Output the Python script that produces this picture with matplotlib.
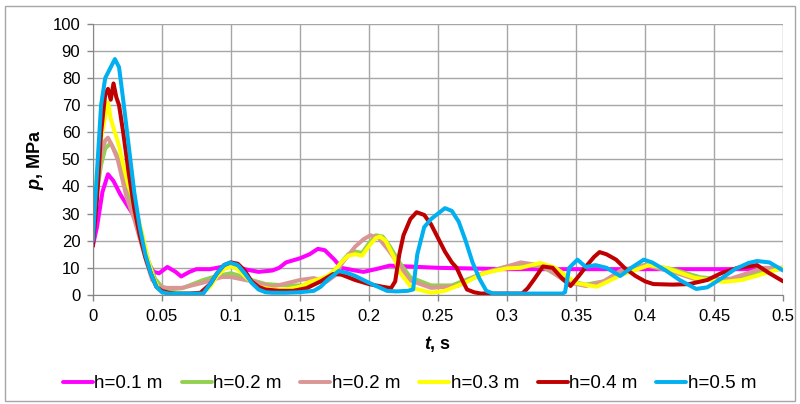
import matplotlib
matplotlib.use("Agg")
import matplotlib.pyplot as plt
from matplotlib.patches import Rectangle

plt.rcParams['font.family'] = ['Liberation Sans', 'DejaVu Sans']
plt.rcParams['mathtext.fontset'] = 'custom'
plt.rcParams['mathtext.rm'] = 'Liberation Sans:bold'
plt.rcParams['mathtext.it'] = 'Liberation Sans:italic:bold'
plt.rcParams['mathtext.bf'] = 'Liberation Sans:bold'

# ---- data ----
t_m = [0, 0.003, 0.007, 0.011, 0.015, 0.02, 0.025, 0.03, 0.035, 0.04, 0.044, 0.048, 0.054, 0.06,
       0.064, 0.07, 0.075, 0.085, 0.095, 0.1, 0.11, 0.12, 0.13, 0.135, 0.14, 0.15, 0.157, 0.163,
       0.168, 0.175, 0.18, 0.19, 0.196, 0.205, 0.215, 0.25, 0.3, 0.35, 0.4, 0.45, 0.5]
p_m = [18, 25, 38, 44.5, 42, 37, 33, 29, 23, 12, 8.5, 8, 10.3, 8.5,
       6.8, 8.5, 9.5, 9.5, 10.5, 11, 9.5, 8.5, 9, 10, 12, 13.5, 15, 17,
       16.5, 13, 10, 9, 8.5, 9.5, 10.8, 10, 9.5, 9.5, 9.5, 9.5, 9.5]

t_g = [0, 0.003, 0.006, 0.009, 0.013, 0.017, 0.022, 0.026, 0.03, 0.035, 0.04, 0.045, 0.05, 0.055,
       0.065, 0.08, 0.09, 0.1, 0.11, 0.115, 0.125, 0.14, 0.15, 0.16, 0.17, 0.175, 0.18, 0.185, 0.19,
       0.195, 0.2, 0.205, 0.21, 0.215, 0.222, 0.23, 0.245, 0.26, 0.28, 0.3, 0.31, 0.325, 0.343,
       0.357, 0.37, 0.385, 0.4, 0.42, 0.44, 0.46, 0.48, 0.5]
p_g = [20, 38, 48, 54, 56, 52, 45, 38, 31, 22, 13, 6, 3, 2,
       2.5, 5.5, 7, 8, 6.5, 5.5, 4, 3.5, 3.5, 4, 6, 9, 12, 15, 16,
       15.5, 19, 22, 21.5, 18, 12, 6.5, 3.5, 3.5, 7.5, 10.5, 11.5, 10.5, 5.5,
       3.8, 5, 9, 11, 9.5, 6.5, 5.5, 8, 10]

t_s = [0, 0.003, 0.006, 0.009, 0.011, 0.014, 0.018, 0.0245, 0.03, 0.0345, 0.039, 0.043, 0.048,
       0.054, 0.0645, 0.079, 0.0935, 0.1, 0.117, 0.13, 0.15, 0.16, 0.169, 0.175, 0.181, 0.19, 0.196,
       0.201, 0.207, 0.214, 0.222, 0.229, 0.245, 0.264, 0.283, 0.3, 0.31, 0.326, 0.343, 0.357, 0.37,
       0.383, 0.4, 0.42, 0.438, 0.462, 0.486, 0.5]
p_s = [19, 40, 52, 57, 58, 55, 50, 36, 28, 20, 12, 5.5, 3,
       2.6, 2.6, 4.4, 6.6, 6.6, 4.8, 3, 5.5, 6.2, 4.8, 7, 12, 17.8, 20.5,
       22, 21, 16.6, 11, 5.5, 2.6, 3.3, 8.1, 10.5, 12, 10.7, 4.8, 3.3, 5,
       9.2, 11, 8.5, 5.5, 6, 10, 10]

t_y = [0, 0.003, 0.006, 0.009, 0.011, 0.013, 0.016, 0.019, 0.022, 0.026, 0.029, 0.032, 0.036,
       0.04, 0.044, 0.048, 0.052, 0.06, 0.075, 0.08, 0.085, 0.09, 0.095, 0.1, 0.105, 0.11, 0.115,
       0.12, 0.13, 0.14, 0.15, 0.157, 0.165, 0.17, 0.175, 0.18, 0.185, 0.19, 0.195, 0.2, 0.205,
       0.208, 0.212, 0.218, 0.222, 0.231, 0.245, 0.255, 0.269, 0.283, 0.3, 0.31, 0.324, 0.335,
       0.35, 0.365, 0.383, 0.403, 0.415, 0.436, 0.457, 0.47, 0.483, 0.5]
p_y = [20, 45, 58, 66, 71, 65, 60, 55, 48, 40, 36, 30, 22,
       13, 6, 2, 0.8, 0.5, 0.5, 1, 3, 7, 9.5, 10.5, 9.5, 7, 4.5,
       3, 2, 2, 3, 4.8, 6, 7, 9, 12, 14.5, 15, 14.5, 18, 21,
       21.5, 20, 14, 8.5, 2.6, 0.8, 1.5, 4.4, 8, 9.8, 10, 11.8, 10,
       4.4, 3, 7.4, 11, 10, 6.3, 4.8, 5.5, 7.4, 10]

t_r = [0, 0.003, 0.006, 0.009, 0.011, 0.013, 0.015, 0.017, 0.019, 0.022, 0.026, 0.03, 0.034,
       0.038, 0.042, 0.046, 0.05, 0.055, 0.06, 0.07, 0.078, 0.085, 0.09, 0.095, 0.1, 0.105, 0.11,
       0.115, 0.12, 0.125, 0.135, 0.145, 0.155, 0.165, 0.174, 0.18, 0.19, 0.2, 0.21, 0.216, 0.219,
       0.222, 0.225, 0.23, 0.2345, 0.24, 0.245, 0.25, 0.255, 0.26, 0.2635, 0.268, 0.271, 0.276,
       0.281, 0.29, 0.3, 0.311, 0.315, 0.32, 0.326, 0.333, 0.34, 0.346, 0.352, 0.358, 0.363,
       0.367, 0.372, 0.379, 0.385, 0.393, 0.4, 0.406, 0.42, 0.432, 0.445, 0.455, 0.467, 0.475,
       0.481, 0.49, 0.5]
p_r = [18, 35, 60, 74, 76, 72, 78, 73, 70, 60, 45, 32, 22,
       14, 8, 3, 1.5, 0.8, 0.5, 0.5, 0.8, 4, 8, 11, 12, 11.5, 9,
       5, 3, 2, 1.5, 1.5, 2.5, 5, 7.7, 7.5, 5.5, 4, 3, 2.5, 5,
       15, 22, 28, 30.5, 29.5, 26, 21, 16, 12, 10, 5, 2, 1,
       0.5, 0.5, 0.5, 0.5, 2.5, 6, 10.5, 10, 6, 3.3, 7, 11, 14,
       15.8, 15, 13, 10, 7, 5, 4, 3.8, 4, 5.5, 8, 10, 10.5,
       11, 8, 5]

t_b = [0, 0.003, 0.006, 0.009, 0.012, 0.016, 0.019, 0.022, 0.026, 0.03, 0.034, 0.038, 0.042,
       0.046, 0.05, 0.055, 0.06, 0.07, 0.08, 0.085, 0.09, 0.095, 0.0993, 0.105, 0.11, 0.115, 0.12,
       0.125, 0.13, 0.14, 0.15, 0.16, 0.165, 0.17, 0.178, 0.185, 0.19, 0.2, 0.213, 0.22, 0.228,
       0.232, 0.235, 0.24, 0.245, 0.25, 0.255, 0.26, 0.265, 0.27, 0.275, 0.28, 0.285, 0.29, 0.3,
       0.32, 0.34, 0.342, 0.345, 0.351, 0.357, 0.364, 0.372, 0.382, 0.39, 0.399, 0.405, 0.415,
       0.425, 0.437, 0.445, 0.455, 0.465, 0.475, 0.481, 0.49, 0.5]
p_b = [20, 45, 70, 80, 83, 87, 84, 72, 55, 38, 25, 15, 8,
       3, 1, 0.5, 0.5, 0.5, 0.5, 4, 8, 11, 11.9, 11, 8, 4.5, 2,
       1, 0.8, 0.8, 1, 1.5, 3, 5.5, 8.8, 8, 7, 4.5, 1.5, 1.3, 1.5,
       2, 15, 25, 28, 30, 32, 31, 27, 20, 12, 6, 1.5, 0.5, 0.5,
       0.5, 0.5, 1, 10, 13, 10.3, 11, 10, 7, 10, 13, 12, 9,
       5.5, 2.2, 2.8, 6, 9.5, 11.8, 12.5, 12, 9]

series = [
    ("h=0.1 m", t_m, p_m, "#FF00FF"),
    ("h=0.2 m", t_g, p_g, "#92D050"),
    ("h=0.2 m", t_s, p_s, "#D99694"),
    ("h=0.3 m", t_y, p_y, "#FFFF00"),
    ("h=0.4 m", t_r, p_r, "#C00000"),
    ("h=0.5 m", t_b, p_b, "#00B0F0"),
]
x_ticks = [0, 0.05, 0.1, 0.15, 0.2, 0.25, 0.3, 0.35, 0.4, 0.45, 0.5]
x_tick_labels = ["0", "0.05", "0.1", "0.15", "0.2", "0.25", "0.3", "0.35", "0.4", "0.45", "0.5"]
y_ticks = list(range(0, 101, 10))

fig = plt.figure(figsize=(8.0, 4.04), dpi=100)
ax = fig.add_axes([0.116, 0.270, 0.863, 0.671])

for label, t, p, c in series:
    ax.plot(t, p, color=c, lw=2.9, label=label, solid_capstyle='round', solid_joinstyle='round')

ax.set_xlim(0, 0.5)
ax.set_ylim(0, 100)
ax.set_xticks(x_ticks)
ax.set_xticklabels(x_tick_labels)
ax.set_yticks(y_ticks)
ax.grid(True, color="#A6A6A6", lw=1.0)
ax.set_axisbelow(True)
for s in ax.spines.values():
    s.set_visible(False)
ax.spines['left'].set_visible(True)
ax.spines['bottom'].set_visible(True)
ax.spines['left'].set_color("#868686")
ax.spines['bottom'].set_color("#868686")
ax.tick_params(axis='both', colors="#868686", labelcolor="black", labelsize=12, length=4, width=1)
ax.tick_params(axis='x', pad=6)
ax.tick_params(axis='y', pad=5)

ax.set_xlabel(r"$t$, s", fontsize=13, fontweight='bold', labelpad=7)
ax.set_ylabel(r"$p$, MPa", fontsize=13, fontweight='bold', labelpad=5)

leg = fig.legend(loc='center', bbox_to_anchor=(0.512, 0.050), ncol=6, frameon=False,
                 fontsize=13.5, handlelength=1.6, handletextpad=0.08, columnspacing=1.0,
                 borderpad=0.2)
for h in leg.legend_handles:
    h.set_linewidth(2.8)

fig.patches.append(Rectangle((0.006, 0.008), 0.988, 0.978, transform=fig.transFigure,
                             fill=False, edgecolor="#A6A6A6", lw=1.0))

fig.savefig("out.png", dpi=100)
